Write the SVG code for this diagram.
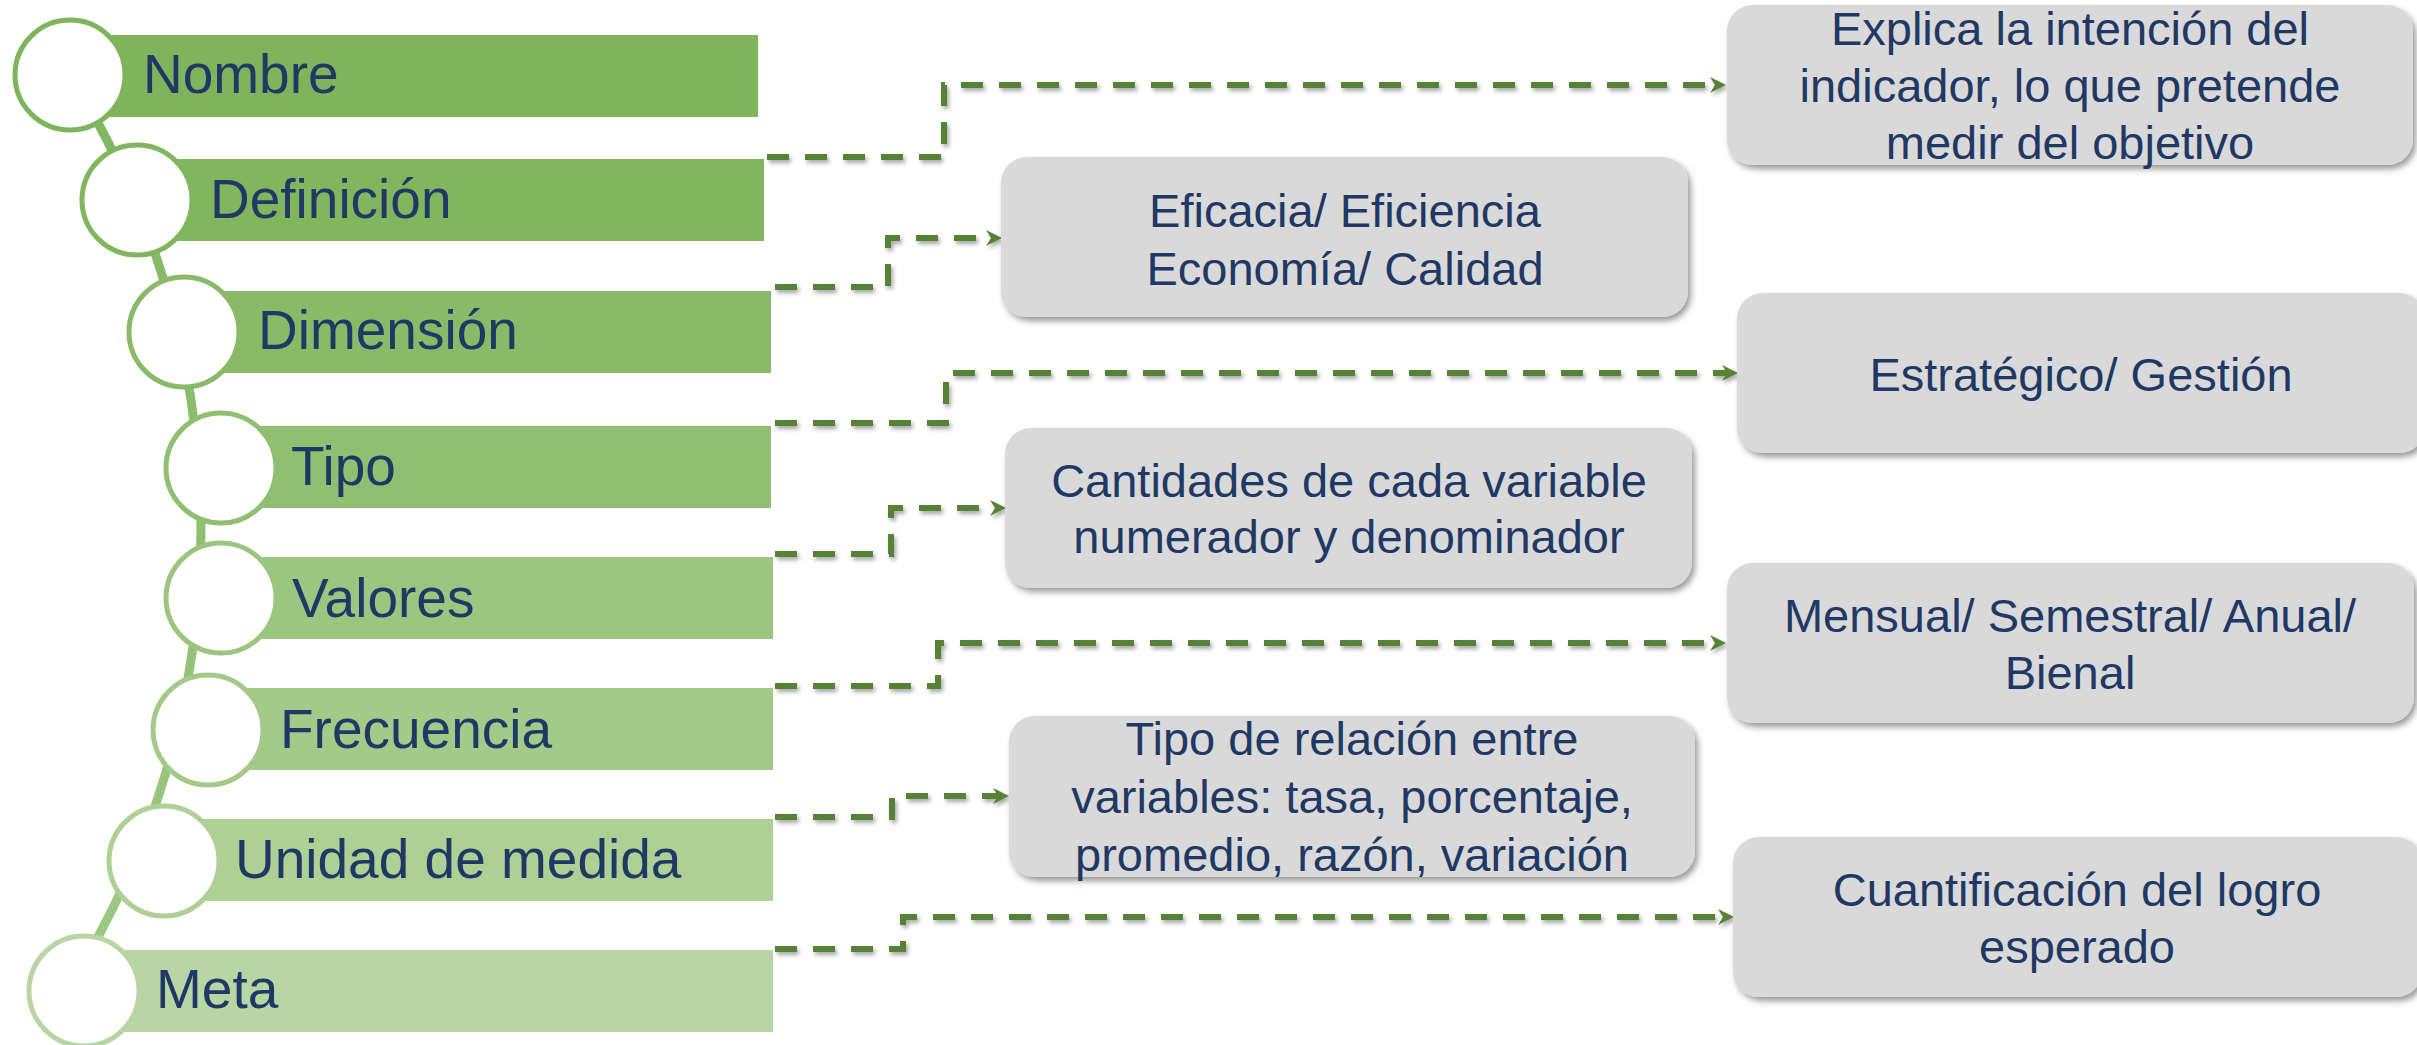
<svg xmlns="http://www.w3.org/2000/svg" width="2417" height="1045" viewBox="0 0 2417 1045">
  <style>
    .lbl { font-family: "Liberation Sans", Arial, sans-serif; font-size: 55px; fill: #1F3864; }
    .btxt { font-family: "Liberation Sans", Arial, sans-serif; font-size: 47px; fill: #1F3864; text-anchor: middle; }
    .box { fill: #D9D9D9; filter: url(#shadow); }
    .ring { fill: #FFFFFF; stroke-width: 5; }
    .conn { fill: none; stroke: #548235; stroke-width: 6; stroke-dasharray: 22 16; marker-end: url(#arrow); }
  </style>
  <defs>
    <filter id="shadow" x="-5%" y="-10%" width="115%" height="130%">
      <feDropShadow dx="3" dy="4" stdDeviation="3" flood-color="#000000" flood-opacity="0.4"/>
    </filter>
    <filter id="lshadow" x="-5%" y="-20%" width="115%" height="150%">
      <feDropShadow dx="2" dy="3" stdDeviation="2" flood-color="#000000" flood-opacity="0.35"/>
    </filter>
    <marker id="arrow" markerUnits="userSpaceOnUse" markerWidth="18" markerHeight="18" refX="5" refY="8" orient="auto">
      <path d="M0,0 L16,8 L0,16 L5,8 Z" fill="#548235"/>
    </marker>
    <linearGradient id="spineGrad" gradientUnits="userSpaceOnUse" x1="0" y1="75" x2="0" y2="985">
      <stop offset="0" stop-color="#80B562"/>
      <stop offset="1" stop-color="#9FC983"/>
    </linearGradient>
  </defs>

  <!-- spine -->
  <g id="spine">
    <path d="M 70 75 A 856 856 0 0 1 70 985" fill="none" stroke="url(#spineGrad)" stroke-width="9"/>
  </g>

  <!-- left nodes -->
  <g id="node-nombre">
    <rect x="70" y="35" width="688" height="82" fill="#7EB45B"/>
    <circle class="ring" cx="70" cy="75" r="55" stroke="#7EB45B"/>
    <text class="lbl" x="143" y="93">Nombre</text>
  </g>
  <g id="node-definicion">
    <rect x="137" y="159" width="627" height="82" fill="#81B65E"/>
    <circle class="ring" cx="137" cy="200" r="55" stroke="#81B65E"/>
    <text class="lbl" x="210" y="218">Definición</text>
  </g>
  <g id="node-dimension">
    <rect x="184" y="291" width="587" height="82" fill="#89BA67"/>
    <circle class="ring" cx="184" cy="332" r="55" stroke="#89BA67"/>
    <text class="lbl" x="258" y="349">Dimensión</text>
  </g>
  <g id="node-tipo">
    <rect x="221" y="426" width="550" height="82" fill="#91BF71"/>
    <circle class="ring" cx="221" cy="468" r="55" stroke="#91BF71"/>
    <text class="lbl" x="291" y="485">Tipo</text>
  </g>
  <g id="node-valores">
    <rect x="221" y="557" width="552" height="82" fill="#9CC57F"/>
    <circle class="ring" cx="221" cy="598" r="55" stroke="#9CC57F"/>
    <text class="lbl" x="292" y="617">Valores</text>
  </g>
  <g id="node-frecuencia">
    <rect x="208" y="688" width="565" height="82" fill="#A4CA89"/>
    <circle class="ring" cx="208" cy="730" r="55" stroke="#A4CA89"/>
    <text class="lbl" x="280" y="748">Frecuencia</text>
  </g>
  <g id="node-unidad">
    <rect x="164" y="819" width="609" height="82" fill="#AED094"/>
    <circle class="ring" cx="164" cy="861" r="55" stroke="#AED094"/>
    <text class="lbl" x="235" y="878">Unidad de medida</text>
  </g>
  <g id="node-meta">
    <rect x="84" y="950" width="689" height="82" fill="#B8D6A3"/>
    <circle class="ring" cx="84" cy="991" r="55" stroke="#B8D6A3"/>
    <text class="lbl" x="156" y="1008">Meta</text>
  </g>

  <!-- connectors -->
  <g id="connectors" filter="url(#lshadow)">
    <path class="conn" d="M 767 157 H 944 V 85 H 1715"/>
    <path class="conn" d="M 775 287 H 888 V 238 H 991"/>
    <path class="conn" d="M 775 423 H 946 V 373 H 1727"/>
    <path class="conn" d="M 775 554 H 891 V 508 H 995"/>
    <path class="conn" d="M 775 686 H 938 V 643 H 1715"/>
    <path class="conn" d="M 775 817 H 892 V 796 H 998"/>
    <path class="conn" d="M 775 949 H 903 V 917 H 1723"/>
  </g>

  <!-- right boxes -->
  <g id="box-intencion">
    <rect class="box" x="1727" y="5" width="686" height="160" rx="26"/>
    <text class="btxt" x="2070" y="45">Explica la intención del</text>
    <text class="btxt" x="2070" y="102">indicador, lo que pretende</text>
    <text class="btxt" x="2070" y="159">medir del objetivo</text>
  </g>
  <g id="box-dimension">
    <rect class="box" x="1001" y="157" width="687" height="160" rx="26"/>
    <text class="btxt" x="1345" y="227">Eficacia/ Eficiencia</text>
    <text class="btxt" x="1345" y="285">Economía/ Calidad</text>
  </g>
  <g id="box-tipo">
    <rect class="box" x="1737" y="293" width="688" height="160" rx="26"/>
    <text class="btxt" x="2081" y="391">Estratégico/ Gestión</text>
  </g>
  <g id="box-valores">
    <rect class="box" x="1005" y="428" width="687" height="160" rx="26"/>
    <text class="btxt" x="1349" y="497">Cantidades de cada variable</text>
    <text class="btxt" x="1349" y="553">numerador y denominador</text>
  </g>
  <g id="box-frecuencia">
    <rect class="box" x="1727" y="563" width="687" height="160" rx="26"/>
    <text class="btxt" x="2070" y="632">Mensual/ Semestral/ Anual/</text>
    <text class="btxt" x="2070" y="689">Bienal</text>
  </g>
  <g id="box-unidad">
    <rect class="box" x="1009" y="716" width="686" height="161" rx="26"/>
    <text class="btxt" x="1352" y="755">Tipo de relación entre</text>
    <text class="btxt" x="1352" y="813">variables: tasa, porcentaje,</text>
    <text class="btxt" x="1352" y="871">promedio, razón, variación</text>
  </g>
  <g id="box-meta">
    <rect class="box" x="1733" y="837" width="689" height="160" rx="26"/>
    <text class="btxt" x="2077" y="906">Cuantificación del logro</text>
    <text class="btxt" x="2077" y="963">esperado</text>
  </g>
</svg>
